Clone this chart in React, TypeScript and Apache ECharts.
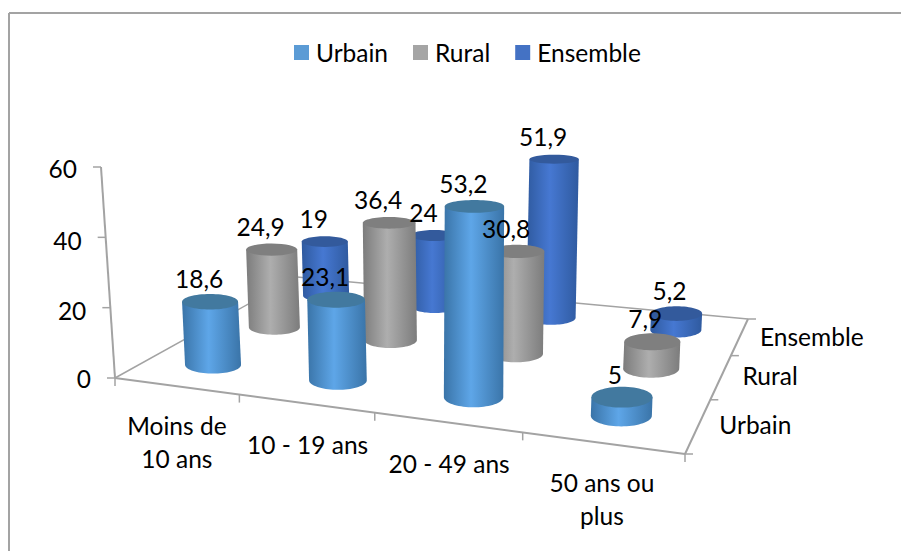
import React, { useEffect, useRef } from "react";
import * as echarts from "echarts";

const categories = ["Moins de\n10 ans", "10 - 19 ans", "20 - 49 ans", "50 ans ou\nplus"];
const depthNames = ["Urbain", "Rural", "Ensemble"];
const urbain = [18.6, 23.1, 53.2, 5];
const rural = [24.9, 36.4, 30.8, 7.9];
const ensemble = [19, 24, 51.9, 5.2];
const yTicks = [0, 20, 40, 60];

const seriesValues = [urbain, rural, ensemble];
const FONT = "Lato, Carlito, sans-serif";
const FS = 24.5;

// floor quadrilateral on screen: origin, front right, back right, back left
const Q = [[115, 378], [685, 454], [748, 319], [297, 277]];
const GRID = { left: 100, top: 100, width: 600, height: 300 };
const AXIS_TOP_DX = -14;

function makeHomography() {
  const [[x0, y0], [x1, y1], [x2, y2], [x3, y3]] = Q;
  const dx1 = x1 - x2, dx2 = x3 - x2, sx = x0 - x1 + x2 - x3;
  const dy1 = y1 - y2, dy2 = y3 - y2, sy = y0 - y1 + y2 - y3;
  const det = dx1 * dy2 - dx2 * dy1;
  const g = (sx * dy2 - dx2 * sy) / det;
  const h = (dx1 * sy - sx * dy1) / det;
  const a = x1 - x0 + g * x1, b = x3 - x0 + h * x3, c = x0;
  const d = y1 - y0 + g * y1, e = y3 - y0 + h * y3, f = y0;
  return (u: number, w: number) => {
    const k = g * u + h * w + 1;
    return [(a * u + b * w + c) / k, (d * u + e * w + f) / k];
  };
}
const floor = makeHomography();

const widthAt = (u: number, w: number) => 57.7 + 6.7 * u - 15 * w;
const ratioAt = (y: number) => 0.09 + (y - 159) * 0.00034;
const leanX = (x: number, h: number) => x + ((x - 450) * h) / 5000;

// top/base geometry of one column, from grid pixel coordinates given by the library's scales
function column(px: number[], j: number) {
  const u = (px[0] - GRID.left) / GRID.width;
  const w = (j + 0.5) / depthNames.length;
  const level = (GRID.top + GRID.height - px[1]) / GRID.height;
  const value = level * 60;
  const [fx, by] = floor(u, w);
  const bx = fx + 2;
  const W = widthAt(u, w);
  const h = value * W * (0.06 + 0.0022 * w);
  const tx = leanX(bx, h);
  const ty = by - h;
  return { u, bx, by, tx, ty, W, h };
}

const palette = [
  { edge: "#3a74a8", mid: "#5ea6e8", top: "#42799f", bright: "#5B9BD5" },
  { edge: "#7c7c7c", mid: "#aeaeae", top: "#7f7f7f", bright: "#A5A5A5" },
  { edge: "#2f5a9f", mid: "#4678d2", top: "#335a9c", bright: "#4472C4" },
];

function cylinder(j: number) {
  return (params: any, api: any) => {
    const px = api.coord([api.value(0), api.value(1)]);
    const c = column(px, j);
    const r = c.W / 2;
    const bt = c.W * ratioAt(c.ty);
    const bb = c.W * ratioAt(c.by);
    const p = palette[j];
    const pts: number[][] = [[c.tx - r, c.ty]];
    for (let k = 0; k <= 36; k++) {
      const a = Math.PI - (Math.PI * k) / 36;
      pts.push([c.bx + r * Math.cos(a), c.by + bb * Math.sin(a)]);
    }
    pts.push([c.tx + r, c.ty]);
    return {
      type: "group",
      children: [
        {
          type: "polygon",
          shape: { points: pts },
          style: {
            fill: new echarts.graphic.LinearGradient(0, 0, 1, 0, [
              { offset: 0, color: p.edge },
              { offset: 0.45, color: p.mid },
              { offset: 1, color: p.edge },
            ]),
          },
        },
        {
          type: "ellipse",
          shape: { cx: c.tx, cy: c.ty, rx: r, ry: bt },
          style: { fill: p.top },
        },
      ],
    };
  };
}

function labelRender(j: number) {
  return (params: any, api: any) => {
    const v = api.value(1);
    const px = api.coord([api.value(0), v]);
    const c = column(px, j);
    return {
      type: "text",
      x: c.tx + (api.value(0) === 3 ? -7 : -11),
      y: c.ty - 23,
      style: {
        text: String(v).replace(".", ","),
        font: `${FS}px ${FONT}`,
        fill: "#000",
        align: "center",
        verticalAlign: "middle",
      },
    };
  };
}

const txt = (text: string, x: number, y: number, align = "center", extra: any = {}) => ({
  type: "text",
  x,
  y,
  silent: true,
  style: { text, font: `${FS}px ${FONT}`, fill: "#000", textAlign: align, textVerticalAlign: "middle", ...extra },
});
const ln = (a: number[], b: number[], w = 1.5) => ({
  type: "line",
  silent: true,
  shape: { x1: a[0], y1: a[1], x2: b[0], y2: b[1] },
  style: { stroke: "#a3a3a3", lineWidth: w },
});

// where the axis texts sit relative to the axis they belong to
const catLabelOffset = [[1, 56], [2, 41], [2, 41], [0, 56]];
const depthLabelOffset = [[57, -1], [49, -1], [72, 0]];
const yLabelDy = [0, 3, 3, 1];

function frame() {
  const els: any[] = [];
  els.push(ln([9, 13], [901, 13], 2), ln([9, 13], [9, 551], 2));
  const O = floor(0, 0), F = floor(1, 0), B = floor(1, 1), L = floor(0, 1);
  els.push(ln(O, F, 2), ln(F, B, 2), ln(B, L, 1.5), ln(L, O, 1.5));
  // value axis
  const yAt = (v: number) => [O[0] + (AXIS_TOP_DX * v) / 60, O[1] - (211 * v) / 60];
  els.push(ln(O, yAt(60), 2));
  yTicks.forEach((v, k) => {
    const p = yAt(v);
    els.push(ln(p, [p[0] - 8, p[1]], 1.5));
    els.push(txt(String(v), p[0] - 24, p[1] + yLabelDy[k], "right"));
  });
  // category axis
  for (let i = 0; i <= categories.length; i++) {
    const p = floor(i / categories.length, 0);
    els.push(ln(p, [p[0], p[1] + 8], 1.5));
  }
  categories.forEach((c, i) => {
    const p = floor((i + 0.5) / categories.length, 0);
    els.push(txt(c, p[0] + catLabelOffset[i][0], p[1] + catLabelOffset[i][1], "center", { lineHeight: 33 }));
  });
  // depth axis
  for (let j = 0; j <= depthNames.length; j++) {
    const p = floor(1, j / depthNames.length);
    els.push(ln(p, [p[0] + 8, p[1]], 1.5));
  }
  depthNames.forEach((n, j) => {
    const p = floor(1, (j + 0.5) / depthNames.length);
    els.push(txt(n, p[0] + depthLabelOffset[j][0], p[1] + depthLabelOffset[j][1]));
  });
  return els;
}

export default function App() {
  const ref = useRef<HTMLDivElement>(null);
  useEffect(() => {
    const chart = echarts.init(ref.current!, undefined, { renderer: "svg" });
    const order = [2, 1, 0];
    const data = (vals: number[]) => vals.map((v, i) => [i, v]);
    chart.setOption({
      animation: false,
      backgroundColor: "#fff",
      legend: {
        data: depthNames,
        left: 294,
        top: 40,
        padding: 0,
        icon: "rect",
        itemWidth: 15,
        itemHeight: 15,
        itemGap: 25,
        textStyle: { fontFamily: FONT, fontSize: FS, color: "#000", padding: [0, 0, 0, 2] },
      },
      grid: { ...GRID, containLabel: false, show: false },
      xAxis: { type: "value", min: -0.5, max: 3.5, show: false },
      yAxis: { type: "value", min: 0, max: 60, interval: 20, show: false },
      graphic: { elements: frame() },
      series: [
        ...order.map((j) => ({
          type: "custom",
          name: depthNames[j],
          z: 2,
          itemStyle: { color: palette[j].bright },
          renderItem: cylinder(j),
          encode: { x: 0, y: 1 },
          data: data(seriesValues[j]),
          clip: false,
        })),
        ...order.map((j) => ({
          type: "custom",
          name: depthNames[j] + " valeurs",
          z: 5,
          renderItem: labelRender(j),
          encode: { x: 0, y: 1 },
          data: data(seriesValues[j]),
          clip: false,
        })),
      ],
    });
    return () => chart.dispose();
  }, []);
  return <div ref={ref} style={{ position: "absolute", left: 0, top: 0, width: 901, height: 551 }} />;
}
